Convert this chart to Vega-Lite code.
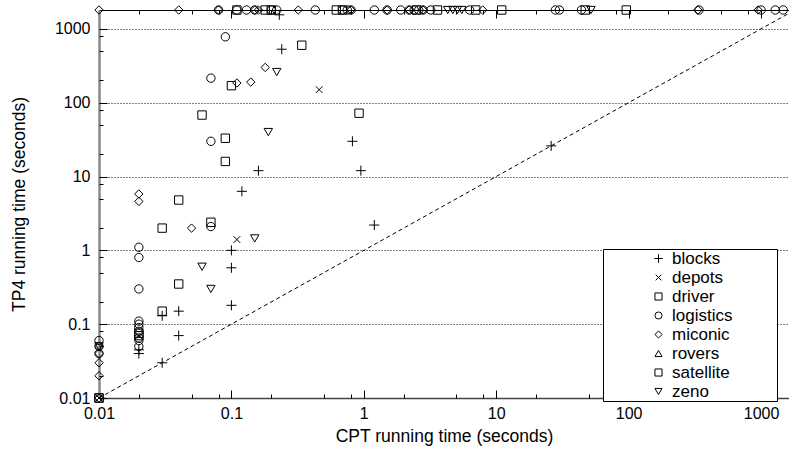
{
  "$schema": "https://vega.github.io/schema/vega-lite/v6.json",
  "width": 690,
  "height": 388,
  "autosize": {"type": "none"},
  "padding": {"left": 99, "top": 10, "right": 0, "bottom": 58},
  "background": "white",
  "config": {"font": "Liberation Sans", "view": {"stroke": null}},
  "datasets": {
    "diag": [{"cpt": 0.01, "tp4": 0.01}, {"cpt": 1800, "tp4": 1800}],
    "runs": [
      {"domain": "logistics", "cpt": 0.01, "tp4": 0.06},
      {"domain": "logistics", "cpt": 0.01, "tp4": 0.05},
      {"domain": "zeno", "cpt": 0.01, "tp4": 0.05},
      {"domain": "miconic", "cpt": 0.01, "tp4": 0.05},
      {"domain": "logistics", "cpt": 0.01, "tp4": 0.04},
      {"domain": "miconic", "cpt": 0.01, "tp4": 0.04},
      {"domain": "miconic", "cpt": 0.01, "tp4": 0.03},
      {"domain": "miconic", "cpt": 0.01, "tp4": 0.02},
      {"domain": "driver", "cpt": 0.01, "tp4": 0.01},
      {"domain": "depots", "cpt": 0.01, "tp4": 0.01},
      {"domain": "satellite", "cpt": 0.01, "tp4": 0.01},
      {"domain": "miconic", "cpt": 0.01, "tp4": 0.01},
      {"domain": "miconic", "cpt": 0.02, "tp4": 5.8},
      {"domain": "miconic", "cpt": 0.02, "tp4": 4.6},
      {"domain": "logistics", "cpt": 0.02, "tp4": 1.1},
      {"domain": "logistics", "cpt": 0.02, "tp4": 0.8},
      {"domain": "logistics", "cpt": 0.02, "tp4": 0.3},
      {"domain": "logistics", "cpt": 0.02, "tp4": 0.11},
      {"domain": "logistics", "cpt": 0.02, "tp4": 0.1},
      {"domain": "logistics", "cpt": 0.02, "tp4": 0.09},
      {"domain": "logistics", "cpt": 0.02, "tp4": 0.08},
      {"domain": "driver", "cpt": 0.02, "tp4": 0.075},
      {"domain": "depots", "cpt": 0.02, "tp4": 0.07},
      {"domain": "satellite", "cpt": 0.02, "tp4": 0.07},
      {"domain": "logistics", "cpt": 0.02, "tp4": 0.065},
      {"domain": "logistics", "cpt": 0.02, "tp4": 0.06},
      {"domain": "logistics", "cpt": 0.02, "tp4": 0.05},
      {"domain": "blocks", "cpt": 0.02, "tp4": 0.045},
      {"domain": "blocks", "cpt": 0.02, "tp4": 0.04},
      {"domain": "driver", "cpt": 0.03, "tp4": 0.15},
      {"domain": "blocks", "cpt": 0.03, "tp4": 0.13},
      {"domain": "blocks", "cpt": 0.03, "tp4": 0.03},
      {"domain": "driver", "cpt": 0.03, "tp4": 2.0},
      {"domain": "driver", "cpt": 0.04, "tp4": 0.35},
      {"domain": "blocks", "cpt": 0.04, "tp4": 0.15},
      {"domain": "blocks", "cpt": 0.04, "tp4": 0.07},
      {"domain": "driver", "cpt": 0.04, "tp4": 4.8},
      {"domain": "miconic", "cpt": 0.05, "tp4": 2.0},
      {"domain": "zeno", "cpt": 0.06, "tp4": 0.6},
      {"domain": "driver", "cpt": 0.06, "tp4": 68},
      {"domain": "zeno", "cpt": 0.07, "tp4": 0.3},
      {"domain": "driver", "cpt": 0.07, "tp4": 2.4},
      {"domain": "logistics", "cpt": 0.07, "tp4": 2.1},
      {"domain": "logistics", "cpt": 0.07, "tp4": 215},
      {"domain": "logistics", "cpt": 0.07, "tp4": 30},
      {"domain": "logistics", "cpt": 0.09, "tp4": 780},
      {"domain": "driver", "cpt": 0.09, "tp4": 33},
      {"domain": "driver", "cpt": 0.09, "tp4": 16},
      {"domain": "driver", "cpt": 0.1, "tp4": 170},
      {"domain": "blocks", "cpt": 0.1, "tp4": 1.0},
      {"domain": "blocks", "cpt": 0.1, "tp4": 0.58},
      {"domain": "blocks", "cpt": 0.1, "tp4": 0.18},
      {"domain": "depots", "cpt": 0.11, "tp4": 1.4},
      {"domain": "miconic", "cpt": 0.11, "tp4": 185},
      {"domain": "blocks", "cpt": 0.12, "tp4": 6.3},
      {"domain": "miconic", "cpt": 0.14, "tp4": 190},
      {"domain": "zeno", "cpt": 0.15, "tp4": 1.45},
      {"domain": "blocks", "cpt": 0.16, "tp4": 12},
      {"domain": "miconic", "cpt": 0.18, "tp4": 300},
      {"domain": "zeno", "cpt": 0.19, "tp4": 40},
      {"domain": "zeno", "cpt": 0.22, "tp4": 260},
      {"domain": "blocks", "cpt": 0.24, "tp4": 530},
      {"domain": "blocks", "cpt": 0.23, "tp4": 1550},
      {"domain": "satellite", "cpt": 0.34, "tp4": 600},
      {"domain": "depots", "cpt": 0.46, "tp4": 150},
      {"domain": "blocks", "cpt": 0.82, "tp4": 30},
      {"domain": "satellite", "cpt": 0.92, "tp4": 72},
      {"domain": "blocks", "cpt": 0.95, "tp4": 12},
      {"domain": "blocks", "cpt": 1.2, "tp4": 2.2},
      {"domain": "blocks", "cpt": 26, "tp4": 26},
      {"domain": "miconic", "cpt": 0.01, "tp4": 1800},
      {"domain": "miconic", "cpt": 0.04, "tp4": 1800},
      {"domain": "logistics", "cpt": 0.08, "tp4": 1800},
      {"domain": "miconic", "cpt": 0.08, "tp4": 1800},
      {"domain": "satellite", "cpt": 0.11, "tp4": 1800},
      {"domain": "logistics", "cpt": 0.11, "tp4": 1800},
      {"domain": "logistics", "cpt": 0.13, "tp4": 1800},
      {"domain": "logistics", "cpt": 0.15, "tp4": 1800},
      {"domain": "miconic", "cpt": 0.15, "tp4": 1800},
      {"domain": "miconic", "cpt": 0.16, "tp4": 1800},
      {"domain": "driver", "cpt": 0.18, "tp4": 1800},
      {"domain": "logistics", "cpt": 0.2, "tp4": 1800},
      {"domain": "satellite", "cpt": 0.2, "tp4": 1800},
      {"domain": "logistics", "cpt": 0.22, "tp4": 1800},
      {"domain": "miconic", "cpt": 0.32, "tp4": 1800},
      {"domain": "logistics", "cpt": 0.43, "tp4": 1800},
      {"domain": "driver", "cpt": 0.62, "tp4": 1800},
      {"domain": "satellite", "cpt": 0.69, "tp4": 1800},
      {"domain": "logistics", "cpt": 0.69, "tp4": 1800},
      {"domain": "logistics", "cpt": 0.75, "tp4": 1800},
      {"domain": "miconic", "cpt": 0.8, "tp4": 1800},
      {"domain": "logistics", "cpt": 0.8, "tp4": 1800},
      {"domain": "logistics", "cpt": 1.2, "tp4": 1800},
      {"domain": "logistics", "cpt": 1.5, "tp4": 1800},
      {"domain": "miconic", "cpt": 1.5, "tp4": 1800},
      {"domain": "logistics", "cpt": 1.9, "tp4": 1800},
      {"domain": "logistics", "cpt": 2.2, "tp4": 1800},
      {"domain": "miconic", "cpt": 2.2, "tp4": 1800},
      {"domain": "logistics", "cpt": 2.4, "tp4": 1800},
      {"domain": "satellite", "cpt": 2.5, "tp4": 1800},
      {"domain": "logistics", "cpt": 2.6, "tp4": 1800},
      {"domain": "miconic", "cpt": 2.8, "tp4": 1800},
      {"domain": "logistics", "cpt": 2.8, "tp4": 1800},
      {"domain": "logistics", "cpt": 3.2, "tp4": 1800},
      {"domain": "driver", "cpt": 3.6, "tp4": 1800},
      {"domain": "zeno", "cpt": 4.3, "tp4": 1800},
      {"domain": "zeno", "cpt": 4.7, "tp4": 1800},
      {"domain": "zeno", "cpt": 5.1, "tp4": 1800},
      {"domain": "zeno", "cpt": 5.5, "tp4": 1800},
      {"domain": "logistics", "cpt": 6.3, "tp4": 1800},
      {"domain": "satellite", "cpt": 7.0, "tp4": 1800},
      {"domain": "miconic", "cpt": 7.9, "tp4": 1800},
      {"domain": "satellite", "cpt": 11, "tp4": 1800},
      {"domain": "logistics", "cpt": 28, "tp4": 1800},
      {"domain": "logistics", "cpt": 30, "tp4": 1800},
      {"domain": "logistics", "cpt": 44, "tp4": 1800},
      {"domain": "satellite", "cpt": 47, "tp4": 1800},
      {"domain": "zeno", "cpt": 52, "tp4": 1800},
      {"domain": "driver", "cpt": 96, "tp4": 1800},
      {"domain": "miconic", "cpt": 334, "tp4": 1800},
      {"domain": "logistics", "cpt": 340, "tp4": 1800},
      {"domain": "miconic", "cpt": 950, "tp4": 1800},
      {"domain": "logistics", "cpt": 1000, "tp4": 1800},
      {"domain": "logistics", "cpt": 1280, "tp4": 1800},
      {"domain": "logistics", "cpt": 1470, "tp4": 1800}
    ]
  },
  "layer": [
    {
      "data": {"name": "diag"},
      "mark": {"type": "line", "strokeDash": [4, 3], "color": "black", "strokeWidth": 1, "clip": true},
      "encoding": {
        "x": {
          "field": "cpt", "type": "quantitative",
          "scale": {"type": "log", "domain": [0.01, 1626], "nice": false},
          "axis": {
            "orient": "bottom",
            "values": [0.01, 0.1, 1, 10, 100, 1000],
            "format": "~g",
            "labelOverlap": false,
            "labelFlush": false,
            "labelFontSize": 16,
            "labelColor": "black",
            "labelPadding": 7,
            "ticks": false,
            "tickSize": 0,
            "title": "CPT running time (seconds)",
            "titleFontSize": 17.5,
            "titleFontWeight": "normal",
            "titleColor": "black",
            "titlePadding": 6,
            "domainColor": "#444",
            "domainWidth": 1.5,
            "grid": false
          }
        },
        "y": {
          "field": "tp4", "type": "quantitative",
          "scale": {"type": "log", "domain": [0.01, 1800], "nice": false},
          "axis": {
            "orient": "left",
            "values": [0.01, 0.1, 1, 10, 100, 1000],
            "format": "~g",
            "labelOverlap": false,
            "labelFlush": false,
            "labelFontSize": 16,
            "labelColor": "black",
            "labelPadding": 9,
            "ticks": false,
            "tickSize": 0,
            "title": "TP4 running time (seconds)",
            "titleFontSize": 17.5,
            "titleFontWeight": "normal",
            "titleColor": "black",
            "titlePadding": 26,
            "domainColor": "#888",
            "domainWidth": 2.5,
            "grid": true,
            "gridColor": "black",
            "gridDash": [1, 2],
            "gridWidth": 1
          }
        }
      }
    },
    {
      "data": {"name": "runs"},
      "mark": {"type": "point", "filled": false, "strokeWidth": 1, "clip": false, "opacity": 1},
      "encoding": {
        "x": {
          "field": "cpt", "type": "quantitative",
          "scale": {"type": "log", "domain": [0.01, 1626], "nice": false},
          "axis": {
            "orient": "top", "values": [0.01, 0.1, 1, 10, 100, 1000],
            "labels": false, "ticks": false, "title": null, "grid": false,
            "domainColor": "black", "domainWidth": 1
          }
        },
        "y": {
          "field": "tp4", "type": "quantitative",
          "scale": {"type": "log", "domain": [0.01, 1800], "nice": false},
          "axis": {
            "orient": "left", "values": [0.01, 0.1, 1, 10, 100, 1000],
            "offset": -8, "tickSize": 8, "tickColor": "black", "tickWidth": 1,
            "labels": false, "domain": false, "title": null, "grid": false
          }
        },
        "shape": {
          "field": "domain", "type": "nominal",
          "scale": {
            "domain": ["blocks", "depots", "driver", "logistics", "miconic", "rovers", "satellite", "zeno"],
            "range": ["M-1.2,0H1.2M0,-1.2V1.2", "M-0.8,-0.8L0.8,0.8M0.8,-0.8L-0.8,0.8", "square", "circle", "diamond", "triangle-up", "square", "triangle-down"]
          },
          "legend": {
            "title": "\u00a0",
            "titleOrient": "right",
            "titlePadding": 44,
            "orient": "none",
            "legendX": 504,
            "legendY": 239,
            "padding": 1,
            "strokeColor": "black",
            "fillColor": "white",
            "symbolOffset": 46,
            "labelOffset": 5,
            "labelFontSize": 17,
            "labelColor": "black",
            "labelLimit": 0,
            "symbolSize": 50,
            "symbolStrokeColor": "black",
            "symbolStrokeWidth": 1,
            "symbolFillColor": "transparent",
            "rowPadding": 1
          }
        },
        "color": {"value": "black"},
        "size": {"value": 70}
      }
    },
    {
      "data": {"name": "diag"},
      "mark": {"type": "line", "opacity": 0},
      "encoding": {
        "x": {
          "field": "cpt", "type": "quantitative",
          "scale": {"type": "log", "domain": [0.01, 1626], "nice": false},
          "axis": {
            "orient": "bottom", "values": [0.01, 0.1, 1, 10, 100, 1000],
            "offset": -8, "tickSize": 8, "tickColor": "black", "tickWidth": 1,
            "labels": false, "domain": false, "title": null, "grid": false
          }
        },
        "y": {
          "field": "tp4", "type": "quantitative",
          "scale": {"type": "log", "domain": [0.01, 1800], "nice": false},
          "axis": {
            "orient": "left", "values": [0.02, 0.05, 0.08, 0.2, 0.5, 0.8, 2, 5, 8, 20, 50, 80, 200, 500, 800],
            "offset": -4, "tickSize": 4, "tickColor": "black", "tickWidth": 1,
            "labels": false, "domain": false, "title": null, "grid": false
          }
        }
      }
    },
    {
      "data": {"name": "diag"},
      "mark": {"type": "line", "opacity": 0},
      "encoding": {
        "x": {
          "field": "cpt", "type": "quantitative",
          "scale": {"type": "log", "domain": [0.01, 1626], "nice": false},
          "axis": {
            "orient": "bottom", "values": [0.02, 0.05, 0.08, 0.2, 0.5, 0.8, 2, 5, 8, 20, 50, 80, 200, 500, 800],
            "offset": -4, "tickSize": 4, "tickColor": "black", "tickWidth": 1,
            "labels": false, "domain": false, "title": null, "grid": false
          }
        },
        "y": {
          "field": "tp4", "type": "quantitative",
          "scale": {"type": "log", "domain": [0.01, 1800], "nice": false},
          "axis": null
        }
      }
    },
    {
      "data": {"name": "diag"},
      "mark": {"type": "line", "opacity": 0},
      "encoding": {
        "x": {
          "field": "cpt", "type": "quantitative",
          "scale": {"type": "log", "domain": [0.01, 1626], "nice": false},
          "axis": {
            "orient": "top", "values": [0.01, 0.1, 1, 10, 100, 1000],
            "offset": -8, "tickSize": 8, "tickColor": "black", "tickWidth": 1,
            "labels": false, "domain": false, "title": null, "grid": false
          }
        },
        "y": {
          "field": "tp4", "type": "quantitative",
          "scale": {"type": "log", "domain": [0.01, 1800], "nice": false},
          "axis": null
        }
      }
    },
    {
      "data": {"name": "diag"},
      "mark": {"type": "line", "opacity": 0},
      "encoding": {
        "x": {
          "field": "cpt", "type": "quantitative",
          "scale": {"type": "log", "domain": [0.01, 1626], "nice": false},
          "axis": {
            "orient": "top", "values": [0.02, 0.05, 0.08, 0.2, 0.5, 0.8, 2, 5, 8, 20, 50, 80, 200, 500, 800],
            "offset": -4, "tickSize": 4, "tickColor": "black", "tickWidth": 1,
            "labels": false, "domain": false, "title": null, "grid": false
          }
        },
        "y": {
          "field": "tp4", "type": "quantitative",
          "scale": {"type": "log", "domain": [0.01, 1800], "nice": false},
          "axis": null
        }
      }
    }
  ],
  "resolve": {"axis": {"x": "independent", "y": "independent"}}
}
